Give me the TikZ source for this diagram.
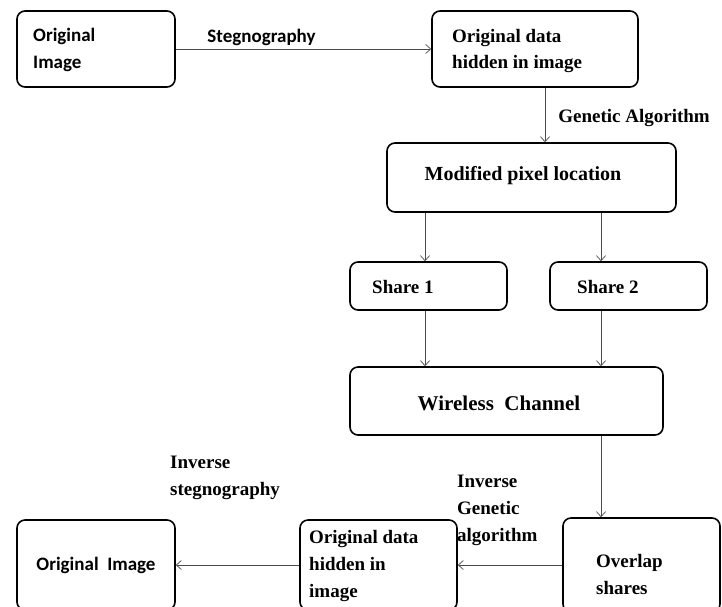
\documentclass[tikz,border=0pt]{standalone}
\usepackage{fontspec}
\setmainfont{Liberation Serif}
\newfontfamily\calfont{Carlito}
\usetikzlibrary{arrows.meta}

\begin{document}
\begin{tikzpicture}[x=1pt,y=-1pt,
	box/.style={rectangle, draw=black, line width=1.6pt, rounded corners=8pt, inner sep=0pt},
	calbox/.style={box, font=\calfont\bfseries\fontsize{19}{27}\selectfont},
	serbox/.style={box, font=\bfseries\fontsize{19}{26}\selectfont},
	lbl/.style={align=left, inner sep=0pt, font=\bfseries\fontsize{19}{27}\selectfont},
	flow/.style={draw=black!70, line width=0.7pt, -{Straight Barb[length=5pt,width=9pt]}}]

	\useasboundingbox (0,0) rectangle (722,606);

	%Nodes
	\node[calbox, minimum width=158pt, minimum height=76pt] (orig) at (96,49) {};
	\node[anchor=west, align=left, inner sep=0pt, font=\calfont\bfseries\fontsize{19}{27}\selectfont] at (33,50) {Original\\Image};
	\node[serbox, minimum width=206pt, minimum height=76pt] (hidden) at (535,49) {};
	\node[anchor=west, align=left, inner sep=0pt, font=\bfseries\fontsize{19}{26}\selectfont] at (452,51) {Original data\\hidden in image};
	\node[serbox, minimum width=289pt, minimum height=69pt] (modified) at (531.5,177.5) {};
	\node[anchor=center, inner sep=0pt, font=\bfseries\fontsize{20}{26}\selectfont] at (523,176) {Modified pixel location};
	\node[serbox, minimum width=157pt, minimum height=48pt] (share1) at (428.5,286) {};
	\node[anchor=west, inner sep=0pt, font=\bfseries\fontsize{19}{26}\selectfont] at (372,287) {Share 1};
	\node[serbox, minimum width=157pt, minimum height=48pt] (share2) at (628.5,286) {};
	\node[anchor=west, inner sep=0pt, font=\bfseries\fontsize{19}{26}\selectfont] at (577,287) {Share 2};
	\node[serbox, minimum width=313pt, minimum height=68pt] (wireless) at (506.5,401) {};
	\node[anchor=center, inner sep=0pt, font=\bfseries\fontsize{21}{26}\selectfont] at (499,403) {Wireless\ \ Channel};
	\node[serbox, minimum width=157pt, minimum height=94pt] (overlap) at (641.5,565) {};
	\node[anchor=west, align=left, inner sep=0pt, font=\bfseries\fontsize{19}{27}\selectfont] at (596,574) {Overlap\\shares};
	\node[serbox, minimum width=157pt, minimum height=90pt] (hidden2) at (378.5,565) {};
	\node[anchor=west, align=left, inner sep=0pt, font=\bfseries\fontsize{19}{27}\selectfont] at (309,566) {Original data\\hidden in\\image};
	\node[calbox, minimum width=158pt, minimum height=90pt] (origl) at (96,565) {Original\ \ Image};

	\coordinate (lx) at (425,0);
	\coordinate (rx) at (601,0);
	\coordinate (gx) at (545,0);

	%Lines
	\draw[flow] (orig.east) -- node[lbl, above, yshift=3pt, xshift=-42pt, font=\calfont\bfseries\fontsize{19}{27}\selectfont] {Stegnography} (hidden.west);
	\draw[flow] (gx |- hidden.south) -- node[lbl, anchor=west, xshift=13pt, yshift=-3pt] {Genetic Algorithm} (gx |- modified.north);
	\draw[flow] (lx |- modified.south) -- (lx |- share1.north);
	\draw[flow] (rx |- modified.south) -- (rx |- share2.north);
	\draw[flow] (lx |- share1.south) -- (lx |- wireless.north);
	\draw[flow] (rx |- share2.south) -- (rx |- wireless.north);
	\draw[flow] (rx |- wireless.south) -- (rx |- overlap.north);
	\draw[flow] (overlap.west) -- (hidden2.east);
	\draw[flow] (hidden2.west) -- (origl.east);

	%Labels
	\node[lbl, anchor=west] (igen) at (457,510) {Inverse\\Genetic\\algorithm};
	\node[lbl, anchor=west] (isteg) at (170,478) {Inverse\\stegnography};
\end{tikzpicture}
\end{document}
